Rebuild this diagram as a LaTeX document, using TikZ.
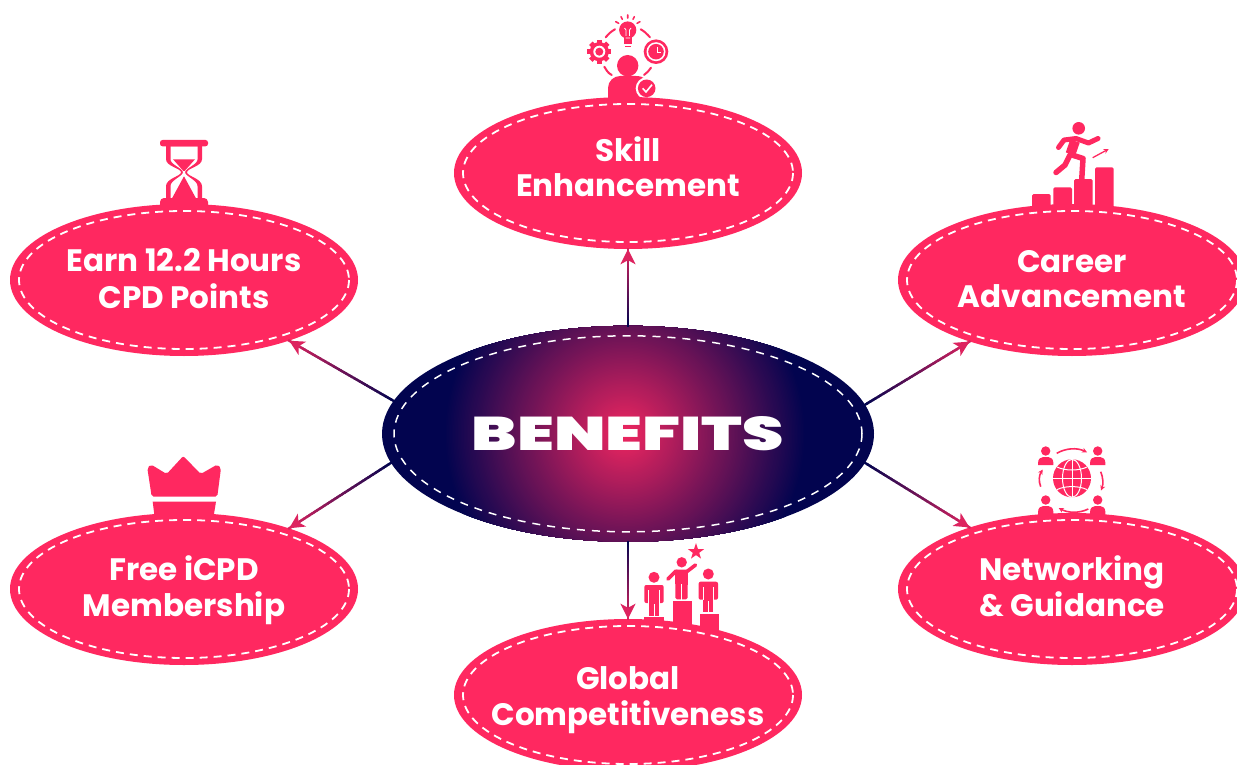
\documentclass[tikz,border=0pt]{standalone}
\usepackage{fontspec}
\usepackage{graphicx}
\usetikzlibrary{shapes.geometric,calc,arrows.meta}
\setmainfont{Poppins}
\newfontfamily\blackfont{Poppins Black}
\definecolor{brand}{HTML}{FF2860}
\definecolor{midpink}{HTML}{F02660}
\definecolor{navyc}{HTML}{02044F}
\newcommand\gradarrow[2]{%
  \foreach \i in {0,...,39}{%
    \pgfmathsetmacro\p{\i*2.3}%
    \draw[line width=2.4pt,color=midpink!\p!navyc,line cap=rect] ($(#1)!{\i/40}!(#2)$) -- ($(#1)!{(\i+1)/40}!(#2)$);
  }%
  \draw[line width=2.4pt,color=midpink!92!navyc,-{Stealth[length=15pt,width=15pt,inset=4pt]}] ($(#1)!0.9!(#2)$) -- (#2);
}
\newcommand\standfig[3]{% cx, top, bottom
  \begin{scope}[shift={(#1,#2)}]
    \fill[brand,rounded corners=2pt] (-9.7,0) rectangle (9.7,18);
    \fill[brand] (-5,4) rectangle (5,#3-#2);
    \fill[white] (-5.8,5) rectangle (-4.8,18.5);
    \fill[white] (4.8,5) rectangle (5.8,18.5);
    \fill[white] (-0.5,19) rectangle (0.5,#3-#2+1);
  \end{scope}
}
\newcommand\bust[3]{% cx, head y, bottom
  \fill[brand] (#1,#2) circle (4.7);
  \begin{scope}[shift={(#1,#2)}]
    \fill[brand] (-7.6,#3-#2) -- (-7.6,11.5) .. controls (-7.6,8) and (-5,6) .. (-2.5,6) -- (2.5,6) .. controls (5,6) and (7.6,8) .. (7.6,11.5) -- (7.6,#3-#2) -- cycle;
  \end{scope}
}
\newcommand\glowrings{%
  \foreach \r in {181,179.5,...,1}{%
    \pgfmathsetmacro\p{100*(1-\r/181)}%
    \fill[color=midpink!\p!navyc] ($(path picture bounding box.center)+(-3,0)$) circle (\r);
  }%
}
\tikzset{
  satellite/.style={ellipse,fill=brand,minimum width=348pt,minimum height=152pt,inner xsep=-70pt,inner ysep=-30pt},
  sattext/.style={text=white,align=center,font=\fontsize{31}{35}\selectfont\bfseries},
  hub/.style={ellipse,fill=navyc,minimum width=492pt,minimum height=216pt,inner sep=0pt,text=white},
  stitch/.style={draw=white,line width=1.8pt,dash pattern=on 8pt off 6pt},
  iconline/.style={draw=brand,line width=2pt,line cap=round},
  smallarrow/.style={draw=brand,line width=1.6pt,-{Stealth[length=5pt,width=5pt]}}
}
\begin{document}
\begin{tikzpicture}[x=1pt,y=-1pt]
\clip (0,0) rectangle (1237,765);
\fill[white] (0,0) rectangle (1237,765);

% ---- skill icon
\fill[brand] (627.7,65.7) circle (10.7);
\fill[brand] (608,110) -- (608,88) .. controls (608,81) and (614,76) .. (620,76) -- (636,76) .. controls (644,76) and (650,81) .. (650,88) -- (650,110) -- cycle;
\fill[white] (646.7,88.3) circle (11);
\fill[brand] (646.7,88.3) circle (8.8);
\draw[white,line width=1.6pt] (642.7,88.3) -- (646,92) -- (652,84.7);
\begin{scope}[shift={(599.3,51.7)}]
  \foreach \a in {0,45,...,315}{\fill[brand,rotate=\a] (-2.4,-12) rectangle (2.4,0);}
  \fill[brand] (0,0) circle (9.6);
  \fill[white] (0,0) circle (6);
  \fill[brand] (0,0) circle (4);
\end{scope}
\fill[brand] (627.7,30) circle (8.6);
\fill[brand] (623.5,35) rectangle (632,44);
\fill[brand] (625,46) rectangle (631,47.5);
\draw[white,line width=0.8pt] (625.5,38) -- (630,38) (626,30) -- (626,36) (629.5,30) -- (629.5,36) (626,30) -- (624.5,28) (629.5,30) -- (631,28);
\draw[brand,line width=1.6pt,line cap=round] (627.7,15) -- (627.7,18) (621,16.7) -- (622.3,19.3) (634.3,16.7) -- (633,19.3) (615.7,21.7) -- (618.7,23.3) (640,21.7) -- (637,23.3);
\fill[brand] (656,51.7) circle (12.3);
\fill[white] (656,51.7) circle (9.5);
\fill[brand] (656,51.7) circle (7.8);
\draw[white,line width=1pt] (657,47) -- (657,52.5) -- (661,52.5);
\draw[iconline] (605.7,37.3) .. controls (608.5,34) and (611,31.5) .. (615,29.3);
\draw[iconline] (640.7,29.3) .. controls (644,31) and (647,34) .. (650,37.3);
\draw[iconline] (604.3,66.7) .. controls (606,70) and (608,73) .. (611.7,75);
\draw[iconline] (651,67.7) .. controls (649,70.5) and (647,73) .. (644,75);

% ---- career icon
\fill[brand] (1078.7,128.3) circle (6.3);
\draw[brand,line width=5pt,line join=round,line cap=round] (1058.5,147.5) -- (1064,140) -- (1076,138.5) -- (1088.5,143) -- (1098,138.5);
\draw[brand,line width=10pt,line join=round] (1075,141) -- (1070.5,154);
\draw[brand,line width=5.5pt,line join=round] (1072,155) -- (1083,158.5) -- (1081.7,180);
\draw[brand,line width=5.5pt,line join=round,line cap=round] (1070,155) -- (1065,165) -- (1056,172.5);
\draw[draw=brand,line width=1.3pt,-{Stealth[length=5pt,width=5pt]}] (1092.7,157.7) -- (1108.7,149);
\fill[brand,rounded corners=1.5pt] (1032,225) -- (1032,194) -- (1050.7,194) -- (1050.7,225) -- cycle;
\fill[brand,rounded corners=1.5pt] (1053.3,225) -- (1053.3,187.3) -- (1072,187.3) -- (1072,225) -- cycle;
\fill[brand,rounded corners=1.5pt] (1074,225) -- (1074,179) -- (1092.7,179) -- (1092.7,225) -- cycle;
\fill[brand,rounded corners=1.5pt] (1095,225) -- (1095,167.3) -- (1113.7,167.3) -- (1113.7,225) -- cycle;

% ---- hourglass icon
\begin{scope}[shift={(184,172.3)}]
  \fill[brand] (-18,-27) -- (-18,-13) .. controls (-18,-6) and (-3,-4) .. (-3,0) .. controls (-3,4) and (-18,6) .. (-18,14) -- (-18,27) -- (18,27) -- (18,14) .. controls (18,6) and (3,4) .. (3,0) .. controls (3,-4) and (18,-6) .. (18,-13) -- (18,-27) -- cycle;
  \fill[white] (-13.5,-26) -- (-13.5,-13) .. controls (-13.5,-8) and (-1,-4) .. (-1,0) .. controls (-1,4) and (-13.5,8) .. (-13.5,14) -- (-13.5,27) -- (13.5,27) -- (13.5,14) .. controls (13.5,8) and (1,4) .. (1,0) .. controls (1,-4) and (13.5,-8) .. (13.5,-13) -- (13.5,-26) -- cycle;
  \fill[brand] (-11,-13) -- (11,-13) -- (0.8,-1.5) -- (-0.8,-1.5) -- cycle;
  \fill[brand] (0,4) -- (-12.5,27) -- (12.5,27) -- cycle;
  \fill[brand,rounded corners=2.5pt] (-24,-32.3) rectangle (24,-26);
  \fill[brand,rounded corners=4pt] (-24,25.7) rectangle (24,38);
\end{scope}

% ---- crown icon
\fill[brand,rounded corners=2pt] (147.3,468) -- (151,464.5) -- (166.7,474) -- (183.3,456) -- (200.7,474) -- (217.3,464.5) -- (221,468) -- (217.3,496.7) -- (151.7,496.7) -- cycle;
\fill[brand] (152.7,501.7) -- (216,501.7) -- (213,520) -- (155,520) -- cycle;

% ---- network icon
\fill[brand] (1072,478.3) circle (19);
\draw[white,line width=1pt] (1072,459.3) -- (1072,497.3) (1053,478.3) -- (1091,478.3);
\draw[white,line width=1pt] (1072,478.3) ellipse [x radius=9.5,y radius=19];
\draw[white,line width=1pt] (1057,467) .. controls (1065,471) and (1079,471) .. (1087,467);
\draw[white,line width=1pt] (1057,489.6) .. controls (1065,485.6) and (1079,485.6) .. (1087,489.6);
\bust{1045.7}{451}{465}
\bust{1097.7}{451}{465}
\bust{1045.7}{500}{525}
\bust{1097.7}{500}{525}
\draw[smallarrow] (1056.7,453.3) .. controls (1066,448) and (1077,447.5) .. (1087,452.3);
\draw[smallarrow] (1100.7,471.7) .. controls (1103,477) and (1103.5,484) .. (1101,490.5);
\draw[smallarrow] (1088.3,509) .. controls (1079,513.5) and (1068,513) .. (1058.7,508);
\draw[smallarrow] (1040.7,486.7) .. controls (1038.5,481) and (1039,475.5) .. (1042.7,469.5);

% ---- global icon
\fill[brand] (696,543.2) -- (698,549) -- (704.1,549.1) -- (699.2,552.8) -- (701,558.6) -- (696,555.1) -- (691,558.6) -- (692.8,552.8) -- (687.9,549.1) -- (694,549) -- cycle;
\fill[brand] (654,577.3) circle (5.5);
\standfig{654}{585}{616}
\fill[brand] (644.3,616.7) rectangle (664,635);
\fill[brand] (681.7,562.3) circle (5.2);
\fill[brand,rounded corners=1.5pt] (675,569.5) -- (688,569.5) -- (687.5,599.3) -- (675.5,599.3) -- cycle;
\fill[white] (681.2,584) rectangle (682.2,600);
\draw[brand,line width=3.6pt,line cap=round] (676,571) -- (668,579);
\draw[brand,line width=3.6pt,line cap=round] (687,571.5) -- (695.5,565);
\fill[brand] (672.7,601) rectangle (692,635);
\fill[brand] (708.3,574) circle (5.5);
\standfig{708.3}{581.7}{612}
\fill[brand] (700,614) rectangle (719.3,645);

% ---- ellipses
\node[satellite] (skill) at (628,173) {};
\node[satellite] (cpd) at (184,280) {};
\node[satellite] (career) at (1072,280) {};
\node[satellite] (member) at (184,589) {};
\node[satellite] (network) at (1072,589) {};
\node[satellite] (global) at (628,695) {};
\node[sattext] (skilltext) at (628,171.5) {\strut Skill\\\strut Enhancement};
\node[sattext] (cpdtext) at (184,283) {\strut Earn 12.2 Hours\\\strut CPD Points};
\node[sattext] (careertext) at (1072,282.5) {\strut Career\\\strut Advancement};
\node[sattext] (membertext) at (184,591.5) {\strut Free iCPD\\\strut Membership};
\node[sattext] (networktext) at (1072,591.5) {\strut Networking\\\strut \& Guidance};
\node[sattext] (globaltext) at (628,700.5) {\strut Global\\\strut Competitiveness};
\node[hub,path picture={\glowrings}] (hubnode) at (628,433.8) {\raisebox{-2pt}{\resizebox{312pt}{34pt}{\blackfont BENEFITS}}};

\foreach \n in {skill,cpd,career,member,network,global}{
  \draw[stitch] (\n.center) ellipse [x radius=165,y radius=69];
}
\draw[stitch,line width=1.5pt,dash pattern=on 8pt off 7pt] (hubnode.center) ellipse [x radius=234,y radius=98];

% ---- connectors
\gradarrow{hubnode.north}{skill.south}
\gradarrow{hubnode.south}{global.north}
\gradarrow{hubnode.172.5}{cpd.-30.2}
\gradarrow{hubnode.7.5}{career.211}
\gradarrow{hubnode.187.5}{member.30.8}
\gradarrow{hubnode.-7.5}{network.149}
\end{tikzpicture}
\end{document}
